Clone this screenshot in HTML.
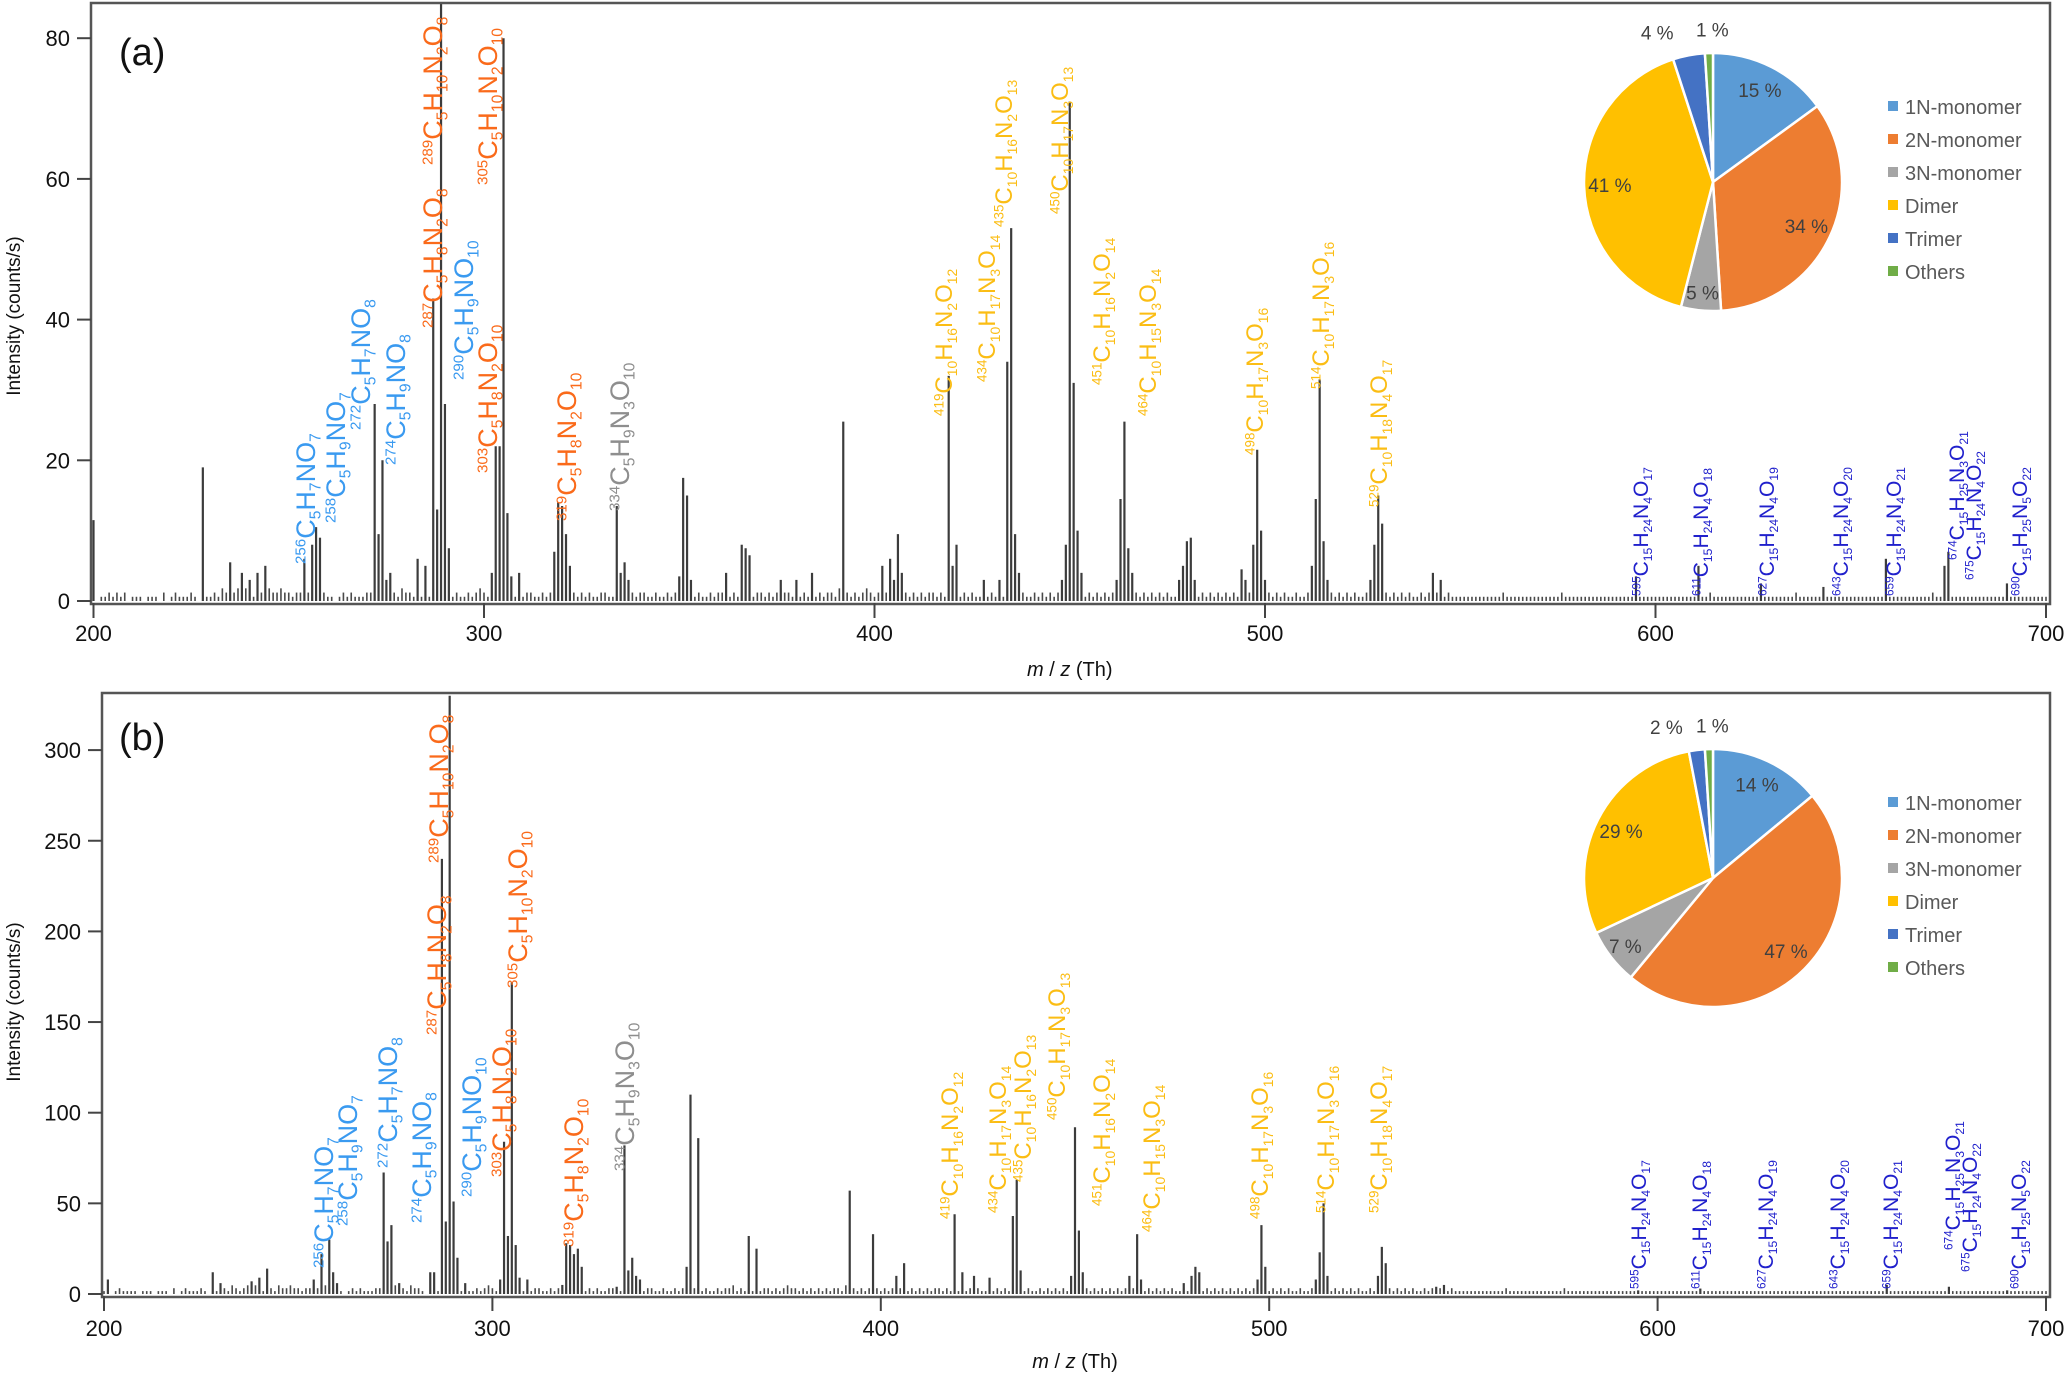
<!DOCTYPE html>
<html><head><meta charset="utf-8"><style>
html,body{margin:0;padding:0;background:#fff;}
svg{display:block;font-family:"Liberation Sans",Arial,sans-serif;}
</style></head>
<body>
<svg id="chart" width="2067" height="1377" viewBox="0 0 2067 1377" xmlns="http://www.w3.org/2000/svg">
</svg>
<script>
// ---------- data ----------
const aMz  = [200,228,235,238,240,242,244,254,256,257,258,272,273,274,275,276,283,285,287,288,289,290,291,302,303,304,305,306,307,309,318,319,320,321,322,334,335,336,337,350,351,352,353,362,366,367,368,376,380,384,392,402,404,405,406,407,419,420,421,428,432,434,435,436,437,448,449,450,451,452,453,462,463,464,465,466,478,479,480,481,482,494,495,497,498,499,500,512,513,514,515,516,527,528,529,530,543,545,595,611,627,643,659,674,675,690];
const aInt = [11.5,19,5.5,4,3,4,5,6,8,10.5,9,28,9.5,20,3,4,6,5,43,13,85,28,7.5,4,22,22,80,12.5,3.5,4,7,14,13.5,9.5,5,13.5,4,5.5,3,3.5,17.5,15,3,4,8,7.5,6.5,3,3,4,25.5,5,6,3,9.5,4,32,5,8,3,3,34,53,9.5,4,3,8,71,31,10,4,3,14.5,25.5,7.5,4,3,5,8.5,9,3,4.5,3,8,21.5,10,3,5,14.5,31.5,8.5,3,3,8,15,11,4,3,3.5,5,2.5,2,6,5,7,2.5];
const bMz  = [201,228,230,238,240,242,254,256,258,259,260,272,273,274,276,284,285,287,288,289,290,291,293,302,303,304,305,306,307,309,318,319,320,321,322,323,332,334,335,336,337,338,350,351,353,366,368,392,398,404,406,419,421,424,428,434,435,436,449,450,451,452,464,466,467,478,480,481,482,497,498,499,512,513,514,515,528,529,530,543,545,595,611,659,675,690];
const bInt = [8,12,6,7,9,14,8,22,30,12,6,67,29,38,6,12,12,240,40,330,51,20,6,8,84,32,172,27,9,8,5,28,27,22,25,15,4,82,13,20,10,8,15,110,86,32,25,57,33,10,17,44,12,10,9,43,63,13,10,92,35,12,10,33,8,6,10,15,12,8,38,15,8,23,50,10,10,26,17,4,5,2,3,5,4,2];
// background peaks, one digit per integer m/z from 200 to 700
const aBase = "20112121201110111020121112101112132123232112132232"+"21223213221101212111221223121322101213210212112123"+"21221312111221121222321212121122111212212211211212"+"12221211212231212121221212322121212121221312121232"+"12121211212121221212121212112121213121211212121212"+"12121212121212121212121212112121212121212121212121"+"12121211211212111212121211212112121212112121211211"+"11111111111211111111111111211111111111111111111111"+"11111111111111211111111111111111111121111111111111"+"11111111111111111111121111111111111111111111111111"+"1";
const bBase = "11012111101110111020121112101112132123232112132232"+"21223213221101212111221223121322101213210212112123"+"21221312111221121222321212121122111212212211211212"+"12221211212231212121221212322121212121221312121232"+"12121211212121221212121212112121213121211212121212"+"12121212121212121212121212112121212121212121212121"+"12121211211212111212121211212112121212112121211211"+"11111111111211111111111111211111111111111111111111"+"11111111111111111111111111111111111111111111111111"+"11111111111111111111111111111111111111111111111111"+"1";
const xTicks = [200,300,400,500,600,700];
const aYTicks = [0,20,40,60,80];
const bYTicks = [0,50,100,150,200,250,300];
const pieCats = ["1N-monomer","2N-monomer","3N-monomer","Dimer","Trimer","Others"];
const pieA = [15,34,5,41,4,1];
const pieB = [14,47,7,29,2,1];
const labMz   = ["256","258","272","274","290","287","289","303","305","319","334","419","434","435","450","451","464","498","514","529","595","611","627","643","659","674","675","690"];
const labForm = ["C5H7NO7","C5H9NO7","C5H7NO8","C5H9NO8","C5H9NO10","C5H8N2O8","C5H10N2O8","C5H8N2O10","C5H10N2O10","C5H8N2O10","C5H9N3O10","C10H16N2O12","C10H17N3O14","C10H16N2O13","C10H17N3O13","C10H16N2O14","C10H15N3O14","C10H17N3O16","C10H17N3O16","C10H18N4O17","C15H24N4O17","C15H24N4O18","C15H24N4O19","C15H24N4O20","C15H24N4O21","C15H25N3O21","C15H24N4O22","C15H25N5O22"];
const labGrp  = [0,0,0,0,0,1,1,1,1,1,2,3,3,3,3,3,3,3,3,3,4,4,4,4,4,4,4,4];

// ---------- layout ----------
const NS="http://www.w3.org/2000/svg";
const svg=document.getElementById('chart');
function mk(tag,attrs,parent){const e=document.createElementNS(NS,tag);for(const k in attrs)e.setAttribute(k,attrs[k]);(parent||svg).appendChild(e);return e;}
const pieColors=["#5b9bd5","#ed7d31","#a5a5a5","#ffc000","#4472c4","#70ad47"];
const labColors=["#3a9af0","#fa6a1a","#8e8e8e","#fbbd14","#2020cc"];
const labSize=[27,27,27,24,21];

const panels=[
 {name:'a',mz:aMz,it:aInt,base:aBase,bs:0.6,yt:aYTicks,left:91,right:2050,top:3,x0:93.5,x1:2046,y0:601,ppu:7.035,
  letter:'(a)',ly:65,titleY:316,xlabY:641,xtitleY:676,pcx:1713,pcy:182,
  lab:[[315,564],[345,523],[370,430],[405,465],[473,380],[442,328],[442,165],[497,473],[497,185],[576,521],[629,511],[952,416],[995,382],[1012,227],[1068,214],[1110,385],[1156,416],[1263,455],[1329,389],[1387,507],[1648,596],[1708,596],[1774,596],[1848,596],[1901,596],[1964,560],[1981,580],[2027,596]],
  pie:pieA},
 {name:'b',mz:bMz,it:bInt,base:bBase,bs:1.6,yt:bYTicks,left:102,right:2050,top:693,x0:104,x1:2046,y0:1294,ppu:1.813,
  letter:'(b)',ly:750,titleY:1002,xlabY:1336,xtitleY:1368,pcx:1713,pcy:878,
  lab:[[333,1268],[357,1226],[397,1168],[431,1223],[481,1197],[446,1035],[448,863],[511,1177],[527,988],[583,1247],[634,1171],[958,1219],[1006,1213],[1031,1182],[1065,1120],[1110,1206],[1160,1232],[1268,1219],[1334,1213],[1387,1213],[1646,1289],[1707,1289],[1773,1289],[1845,1289],[1898,1289],[1960,1250],[1977,1272],[2026,1289]],
  pie:pieB}
];

panels.forEach(p=>{
  const g=mk('g',{});
  
  
  const X=v=>p.x0+(v-200)*(p.x1-p.x0)/500;
  const Y=v=>Math.max(p.top,p.y0-v*p.ppu);
  const bg=mk('g',{stroke:'#4a4a4a','stroke-width':1.6},g);
  
  
  for(let i=0;i<p.base.length;i++){
    const v=(+p.base[i])*p.bs; if(v<=0)continue;
    const l=mk('line',{x1:X(200+i),x2:X(200+i),y1:p.y0,y2:Y(v)},bg);
    
    
  }
  const mg=mk('g',{stroke:'#3c3c3c','stroke-width':2.2},g);
  
  
  p.mz.forEach((m,i)=>{
    const l=mk('line',{x1:X(m),x2:X(m),y1:p.y0,y2:Y(p.it[i])},mg);
    
    
  });
  const fr=mk('rect',{x:p.left,y:p.top,width:p.right-p.left,height:p.y0+3-p.top,fill:'none',stroke:'#555','stroke-width':2.5},g);
  
  
  xTicks.forEach(t=>{
    const tl=mk('line',{x1:X(t),x2:X(t),y1:p.y0+2,y2:p.y0+17,stroke:'#444','stroke-width':2},g);
    
    
    const tx=mk('text',{x:X(t),y:p.xlabY,'text-anchor':'middle','font-size':22,fill:'#111'},g);
    tx.textContent=t;
    
    
  });
  p.yt.forEach(t=>{
    const yy=p.y0-t*p.ppu;
    const tl=mk('line',{x1:p.left-14,x2:p.left,y1:yy,y2:yy,stroke:'#444','stroke-width':2},g);
    
    
    const tx=mk('text',{x:p.left-21,y:yy+8,'text-anchor':'end','font-size':22,fill:'#111'},g);
    tx.textContent=t;
    
    
  });
  const yt=mk('text',{x:0,y:0,transform:`translate(20,${p.titleY}) rotate(-90)`,'text-anchor':'middle','font-size':19,fill:'#111'},g);
  yt.textContent='Intensity (counts/s)';
  
  
  const xt=mk('text',{x:(p.x0+p.x1)/2,y:p.xtitleY,'text-anchor':'middle','font-size':20,fill:'#111'},g);
  xt.innerHTML='<tspan font-style="italic">m</tspan> / <tspan font-style="italic">z</tspan> (Th)';
  
  
  const lt=mk('text',{x:119,y:p.ly,'font-size':38,fill:'#111'},g);
  lt.textContent=p.letter;
  
  
  labMz.forEach((m,i)=>{
    const [bx,by]=p.lab[i]; const F=labSize[labGrp[i]];
    const t=mk('text',{transform:`translate(${bx},${by}) rotate(-90)`,fill:labColors[labGrp[i]],'font-size':F},g);
    
    
    let cur=0;
    const add=(s,size,off)=>{const ts=mk('tspan',{'font-size':size,dy:(off-cur).toFixed(1)},t);ts.textContent=s;cur=off;};
    add(m,F*0.56,-F*0.36);
    const toks=labForm[i].match(/[A-Z]|\d+/g);
    toks.forEach(tk=>{ if(/\d/.test(tk)) add(tk,F*0.58,F*0.2); else add(tk,F,0); });
  });
  const pg=mk('g',{},g);
  
  
  const R=129,cx=p.pcx,cy=p.pcy; const tot=p.pie.reduce((s,v)=>s+v,0);
  let acc=0;
  p.pie.forEach((v,i)=>{
    const a0=acc/tot*2*Math.PI, a1=(acc+v)/tot*2*Math.PI; acc+=v;
    const P=a=>[cx+R*Math.sin(a),cy-R*Math.cos(a)];
    const [x0,y0]=P(a0),[x1,y1]=P(a1);
    const sl=mk('path',{d:`M${cx},${cy}L${x0},${y0}A${R},${R} 0 ${a1-a0>Math.PI?1:0} 1 ${x1},${y1}Z`,fill:pieColors[i],stroke:'#fff','stroke-width':2.5},pg);
    
    
    const am=(a0+a1)/2;
    let lx,ly;
    if(v<=4){ const rr=R*1.15; lx=cx+rr*Math.sin(am)+(i===4?-28:4); ly=cy-rr*Math.cos(am)-4; }
    else { const rr=R*(v<8?0.86:0.8); lx=cx+rr*Math.sin(am); ly=cy-rr*Math.cos(am); }
    const tx=mk('text',{x:lx,y:ly+7,'text-anchor':'middle','font-size':19,fill:'#404040'},pg);
    tx.textContent=v+' %';
    
    
    const lyy=cy-75+i*33;
    const sq=mk('rect',{x:1888,y:lyy-6,width:10,height:10,fill:pieColors[i]},pg);
    
    
    const lt2=mk('text',{x:1905,y:lyy+7,'font-size':20,fill:'#595959'},pg);
    lt2.textContent=pieCats[i];
    
    
  });
});
</script>
</body></html>
